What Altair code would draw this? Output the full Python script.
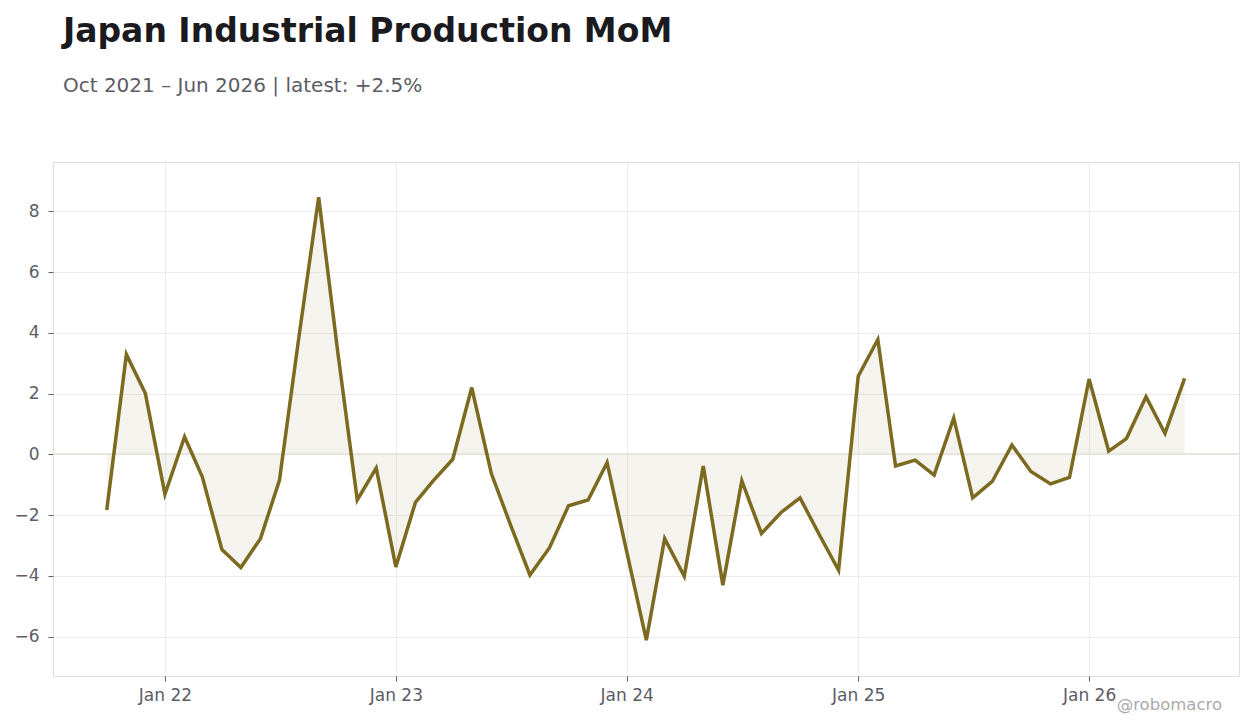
import altair as alt
import pandas as pd

# monthly MoM % change, Oct 2021 - Jun 2026
months = pd.date_range("2021-10-01", "2026-06-01", freq="MS").strftime("%Y-%m-%d").tolist()
mom = [
    -1.83, 3.29, 2.01,
    -1.31, 0.58, -0.74, -3.13, -3.72, -2.77, -0.85, 3.9, 8.46, 3.4, -1.5, -0.45,
    -3.7, -1.58, -0.87, -0.16, 2.2, -0.63, -2.3, -3.97, -3.07, -1.69, -1.5, -0.27,
    -3.2, -6.11, -2.77, -4.01, -0.38, -4.3, -0.87, -2.6, -1.91, -1.43, -2.66, -3.81,
    2.57, 3.78, -0.38, -0.19, -0.68, 1.2, -1.43, -0.89, 0.31, -0.56, -0.97, -0.76,
    2.48, 0.11, 0.52, 1.9, 0.69, 2.5,
]
y_ticks = [-6, -4, -2, 0, 2, 4, 6, 8]
x_ticks = ["2022-01-01", "2023-01-01", "2024-01-01", "2025-01-01", "2026-01-01"]

df = pd.DataFrame({"date": months, "value": mom})

LINE = "#7b6a1f"
FONT = "DejaVu Sans"
W, H = 1186, 514

x_enc = alt.X(
    "date:T",
    title=None,
    scale=alt.Scale(domain=["2021-07-08", "2026-08-26"]),
    axis=alt.Axis(
        values=x_ticks, format="%b %y", labelFontSize=17, labelColor="#5c5c66",
        tickColor="#5c5c66", tickSize=5, labelPadding=6, domain=False,
        gridColor="#ececec",
    ),
)
y_enc = alt.Y(
    "value:Q",
    title=None,
    scale=alt.Scale(domain=[-7.29, 9.62], nice=False, zero=False),
    axis=alt.Axis(
        values=y_ticks, labelFontSize=17, labelColor="#5c5c66",
        tickColor="#5c5c66", tickSize=5, labelPadding=9, domain=False,
        gridColor="#ececec",
    ),
)

base = alt.Chart(df)

area = base.mark_area(color=LINE, opacity=0.08).encode(
    x=x_enc, y=y_enc, y2=alt.datum(0)
)
zero = base.mark_rule(color="#e4e1d6", strokeWidth=1).encode(
    y=alt.datum(0)
)
line = base.mark_line(color=LINE, strokeWidth=3.5).encode(x="date:T", y="value:Q")

credit = alt.Chart(pd.DataFrame({"t": ["@robomacro"]})).mark_text(
    align="right", baseline="alphabetic", fontSize=16.5, color="#aaaaaa", font=FONT
).encode(x=alt.value(1169), y=alt.value(548), text="t:N")

chart = alt.layer(area, zero, line, credit).properties(
    width=W,
    height=H,
    autosize=alt.AutoSizeParams(type="none"),
    padding={"left": 45, "top": 154, "right": 13, "bottom": 44},
    title=alt.TitleParams(
        "Japan Industrial Production MoM",
        subtitle="Oct 2021 – Jun 2026 | latest: +2.5%",
        anchor="start",
        dx=49,
        offset=66,
        font=FONT,
        fontSize=33,
        fontWeight="bold",
        color="#1a1a1f",
        subtitleFont=FONT,
        subtitleFontSize=20,
        subtitleColor="#5c5c66",
        subtitlePadding=27,
    ),
).configure_view(
    stroke="#dddddd"
).configure_axis(
    labelFont=FONT
)

chart.save("out.html", embed_options={"renderer": "svg", "actions": False})
